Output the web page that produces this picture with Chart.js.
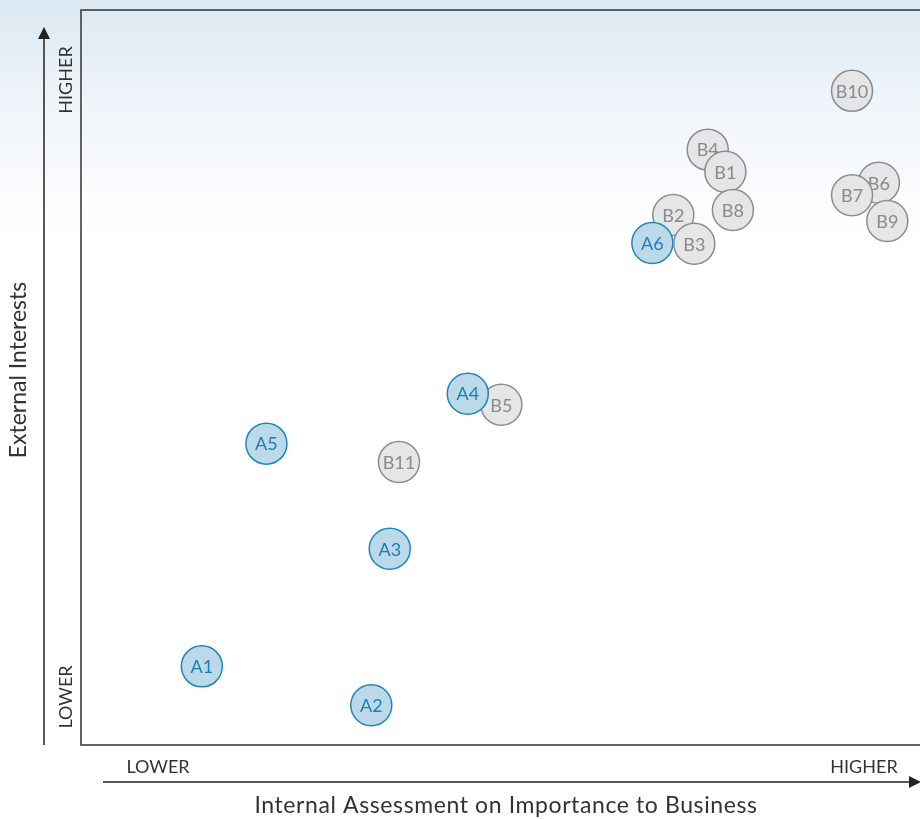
<!DOCTYPE html>
<html>
<head>
<meta charset="utf-8">
<script src="https://cdn.jsdelivr.net/npm/chart.js@4.4.1/dist/chart.umd.min.js"></script>
<style>
  html, body { margin: 0; padding: 0; background: #fff; }
  #wrap { width: 920px; height: 819px; }
</style>
</head>
<body>
<div id="wrap"><canvas id="matrix"></canvas></div>
<script>
// issues, listed from the bottom layer to the top layer
const issueLabels = ['B10', 'B4', 'B1', 'B8', 'B6', 'B7', 'B9', 'B2', 'A6', 'B3',
                     'B5', 'A4', 'A5', 'B11', 'A3', 'A1', 'A2'];
const internalScore = [91.9, 74.7, 76.8, 77.7, 95.1, 91.9, 96.1, 70.6, 68.1, 73.1,
                       50.1, 46.1, 22.1, 37.9, 36.8, 14.4, 34.6];
const externalScore = [89.0, 81.0, 78.0, 72.8, 76.5, 74.8, 71.3, 72.1, 68.3, 68.2,
                       46.3, 47.8, 41.0, 38.5, 26.7, 10.7, 5.4];

const xTitle = 'Internal Assessment on Importance to Business';
const yTitle = 'External Interests';
const lowText = 'LOWER';
const highText = 'HIGHER';

const FONT = 'Lato, "Open Sans", sans-serif';

function styleFor(label) {
    if (label.startsWith('A')) {
        return { fill: '#bcd9ea', border: '#1d87b9', text: '#1b7fb2' };
    }
    return { fill: '#e5e6e8', border: '#8c8c8c', text: '#8a8a8a' };
}

// chart.js paints dataset 0 last (on top), so feed them reversed
const datasets = issueLabels.map((lab, i) => {
    const s = styleFor(lab);
    return {
        label: lab,
        data: [{ x: internalScore[i], y: externalScore[i], r: 20.5 }],
        backgroundColor: s.fill,
        borderColor: s.border,
        borderWidth: 1.5,
        hoverRadius: 0,
        textColor: s.text
    };
}).reverse();

const backdrop = {
    id: 'backdrop',
    beforeDraw(chart) {
        const c = chart.ctx;
        const g = c.createLinearGradient(0, 0, 0, 240);
        g.addColorStop(0, '#dbe8f2');
        g.addColorStop(0.45, '#f0f5fa');
        g.addColorStop(1, '#ffffff');
        c.save();
        c.fillStyle = g;
        c.fillRect(0, 0, chart.width, chart.height);
        c.restore();
    }
};

const bubbleText = {
    id: 'bubbleText',
    afterDatasetDraw(chart, args) {
        const ds = chart.data.datasets[args.index];
        const el = args.meta.data[0];
        const c = chart.ctx;
        c.save();
        c.font = '18px ' + FONT;
        c.fillStyle = ds.textColor;
        c.textAlign = 'center';
        c.textBaseline = 'middle';
        c.fillText(ds.label, el.x, el.y + 1);
        c.restore();
    }
};

const frame = {
    id: 'frame',
    afterDraw(chart) {
        const c = chart.ctx;
        const a = chart.chartArea;
        c.save();
        c.strokeStyle = '#333';
        c.lineWidth = 1.5;
        c.beginPath();
        c.moveTo(chart.width, a.top);
        c.lineTo(a.left, a.top);
        c.lineTo(a.left, a.bottom);
        c.lineTo(chart.width, a.bottom);
        c.stroke();

        // axis arrows
        c.fillStyle = '#222';
        c.strokeStyle = '#222';
        c.beginPath();
        c.moveTo(44, a.bottom);
        c.lineTo(44, 36);
        c.moveTo(103, 782);
        c.lineTo(912, 782);
        c.stroke();
        c.beginPath();
        c.moveTo(44, 27);
        c.lineTo(38, 39);
        c.lineTo(50, 39);
        c.closePath();
        c.fill();
        c.beginPath();
        c.moveTo(921, 782);
        c.lineTo(909, 776);
        c.lineTo(909, 788);
        c.closePath();
        c.fill();

        // end labels
        c.fillStyle = '#333';
        c.font = '18px ' + FONT;
        c.textBaseline = 'middle';
        c.textAlign = 'center';
        c.fillText(lowText, 158, 767);
        c.fillText(highText, 864, 767);
        c.save();
        c.translate(66, 80);
        c.rotate(-Math.PI / 2);
        c.fillText(highText, 0, 0);
        c.restore();
        c.save();
        c.translate(66, 697);
        c.rotate(-Math.PI / 2);
        c.fillText(lowText, 0, 0);
        c.restore();

        // axis titles
        c.font = '23px ' + FONT;
        c.save();
        c.letterSpacing = '0.6px';
        c.fillText(xTitle, 506, 806);
        c.restore();
        c.translate(19, 370);
        c.rotate(-Math.PI / 2);
        c.fillText(yTitle, 0, 0);
        c.restore();
    }
};

new Chart(document.getElementById('matrix'), {
    type: 'bubble',
    data: { datasets: datasets },
    options: {
        responsive: true,
        maintainAspectRatio: false,
        animation: false,
        layout: { autoPadding: false, padding: { left: 81, top: 10, right: 0, bottom: 74 } },
        plugins: {
            legend: { display: false },
            tooltip: { enabled: false }
        },
        scales: {
            x: { type: 'linear', min: 0, max: 100, display: false },
            y: { type: 'linear', min: 0, max: 100, display: false }
        }
    },
    plugins: [backdrop, bubbleText, frame]
});
</script>
</body>
</html>
